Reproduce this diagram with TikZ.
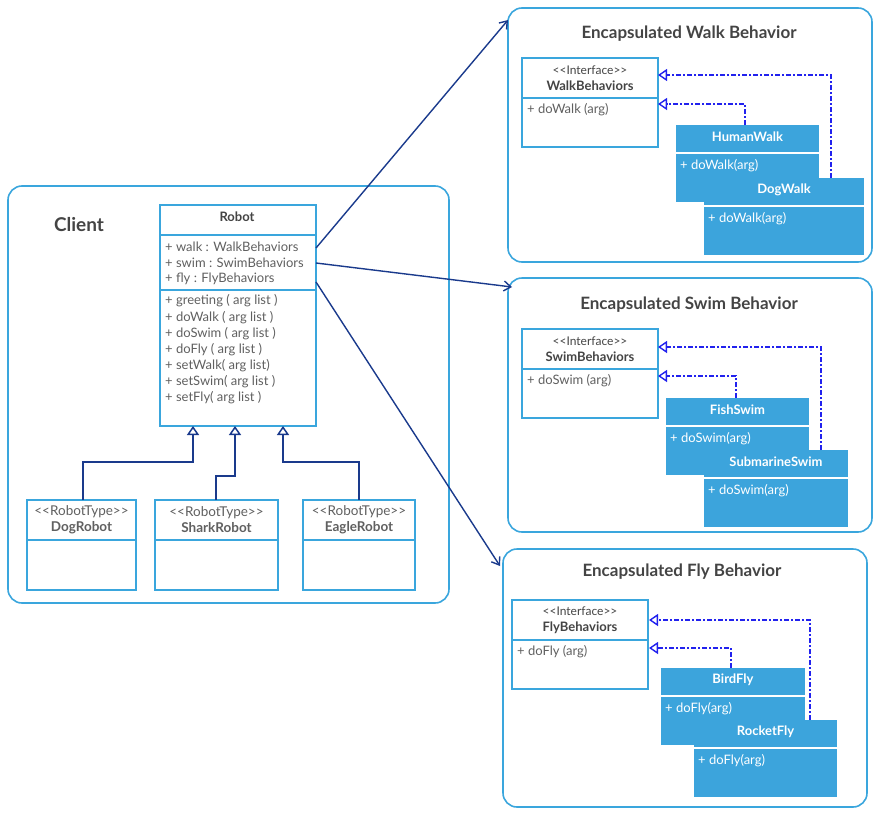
\documentclass[tikz,border=0pt]{standalone}
\usepackage{fontspec}
\setmainfont{Lato}
\usetikzlibrary{arrows.meta}
\definecolor{bc}{HTML}{3AA6DD}
\definecolor{fc}{HTML}{3CA4DC}
\definecolor{dk}{HTML}{1A3A8C}
\definecolor{db}{HTML}{2222EE}
\definecolor{tx}{HTML}{606060}
\definecolor{tt}{HTML}{444444}
\newcommand{\myll}{{<}{<}}
\newcommand{\myrr}{{>}{>}}
\begin{document}
\begin{tikzpicture}[x=1pt,y=-1pt,
  cont/.style={draw=bc,line width=1.6pt,rounded corners=14pt},
  box/.style={draw=bc,line width=1.6pt,fill=white},
  ttl/.style={text=tt,font=\bfseries\fontsize{17}{19}\selectfont},
  hd/.style={text=tt,font=\bfseries\fontsize{13}{15.5}\selectfont,align=center},
  it/.style={text=tx,font=\fontsize{13}{14}\selectfont,anchor=west,inner sep=0pt},
  wh/.style={text=white,font=\bfseries\fontsize{13}{15}\selectfont},
  wt/.style={text=white,font=\fontsize{13}{14}\selectfont,anchor=west,inner sep=0pt},
  inh/.style={draw=dk,line width=1.5pt,-{Triangle[open,width=12pt,length=9pt]}},
  real/.style={draw=db,line width=1.4pt,dash pattern=on 5pt off 2pt on 2pt off 2pt,-{Triangle[open,width=12pt,length=9pt]}},
  assoc/.style={draw=dk,line width=1.4pt,-{Straight Barb[length=7pt,width=10pt]}}]
\useasboundingbox (0,0) rectangle (880,816);
% containers
\draw[cont] (8,186) rectangle (449,603);
\node[font=\bfseries\fontsize{19}{22}\selectfont,text=tt] (client) at (79,225) {Client};
\draw[cont] (508,8) rectangle (872,262);
\draw[cont] (508,278) rectangle (872,532);
\draw[cont] (503,549) rectangle (867,807);
\node[ttl] (tw) at (689,34) {Encapsulated Walk Behavior};
\node[ttl] (ts) at (689,305) {Encapsulated Swim Behavior};
\node[ttl] (tf) at (682,572) {Encapsulated Fly Behavior};
% Robot
\draw[box] (160,205) rectangle (316,426);
\draw[bc,line width=1.6pt] (160,235) -- (316,235) (160,290) -- (316,290);
\coordinate (rb1) at (193,426); \coordinate (rb2) at (235,426); \coordinate (rb3) at (283,426);
\coordinate (ra1) at (316,248); \coordinate (ra2) at (316,263); \coordinate (ra3) at (316,282);
\node[hd] (robot) at (237,217) {Robot};
\foreach \t [count=\i] in {{+ walk : WalkBehaviors},{+ swim : SwimBehaviors},{+ fly : FlyBehaviors}}
  \node[it] (ra\i t) at (165,230+16.3*\i) {\t};
\foreach \t [count=\i] in {{+ greeting ( arg list )},{+ doWalk ( arg list )},{+ doSwim ( arg list )},{+ doFly ( arg list )},{+ setWalk( arg list)},{+ setSwim( arg list )},{+ setFly( arg list )}}
  \node[it] (rm\i) at (165,285+16.1*\i) {\t};
% sub robots
\foreach \n/\a/\b/\lab in {dog/27/136/DogRobot,shark/155/278/SharkRobot,eagle/303/415/EagleRobot}{
  \draw[box] (\a,500) rectangle (\b,590);
  \draw[bc,line width=1.6pt] (\a,540) -- (\b,540);
  \node[hd,font=\fontsize{13.5}{16}\selectfont,text=tx] (\n) at ({(\a+\b)/2},520) {\myll RobotType\myrr\\{\bfseries\lab}};
}
\coordinate (d1) at (83,500); \coordinate (d2) at (216,500); \coordinate (d3) at (359,500);
\draw[inh] (d1) |- (193,462) -- (rb1);
\draw[inh] (d2) |- (235,476) -- (rb2);
\draw[inh] (d3) |- (283,462) -- (rb3);
% interfaces
\foreach \n/\x/\y/\nm/\op in {iw/522/58/WalkBehaviors/{+ doWalk (arg)},is/522/329/SwimBehaviors/{+ doSwim (arg)},if/512/600/FlyBehaviors/{+ doFly (arg)}}{
  \draw[box] (\x,\y) rectangle ++(136,89);
  \draw[bc,line width=1.6pt] (\x,\y+40) -- ++(136,0);
  \node[hd,font=\bfseries\fontsize{13}{16}\selectfont] (\n) at (\x+68,\y+20) {{\mdseries\fontsize{12}{14}\selectfont \myll Interface\myrr}\\\nm};
  \node[it] (\n op) at (\x+5,\y+52) {\op};
}
% filled classes
\foreach \n/\x/\y/\w/\nm/\op in {hw/676/125/143/HumanWalk/{+ doWalk(arg)},dw/704/178/160/DogWalk/{+ doWalk(arg)},
  fs/666/398/143/FishSwim/{+ doSwim(arg)},ss/704/450/144/SubmarineSwim/{+ doSwim(arg)},
  bf/661/668/144/BirdFly/{+ doFly(arg)},rf/694/720/143/RocketFly/{+ doFly(arg)}}{
  \fill[fc] (\x,\y) rectangle ++(\w,77);
  \draw[white,line width=2pt] (\x,\y+28) -- ++(\w,0);
  \node[wh] (\n) at (\x+\w/2,\y+12) {\nm};
  \node[wt] (\n op) at (\x+4,\y+41) {\op};
}
% realizations
\draw[real] (745,125) |- (658,104);
\draw[real] (831,178) |- (658,75);
\draw[real] (736,398) |- (658,376);
\draw[real] (821,450) |- (658,347);
\draw[real] (731,668) |- (649,648);
\draw[real] (810,720) |- (649,620);
% associations
\coordinate (aw) at (508,20); \coordinate (as) at (512,287); \coordinate (af) at (500,566);
\draw[assoc] (ra1) -- (aw);
\draw[assoc] (ra2) -- (as);
\draw[assoc] (ra3) -- (af);
\end{tikzpicture}
\end{document}
